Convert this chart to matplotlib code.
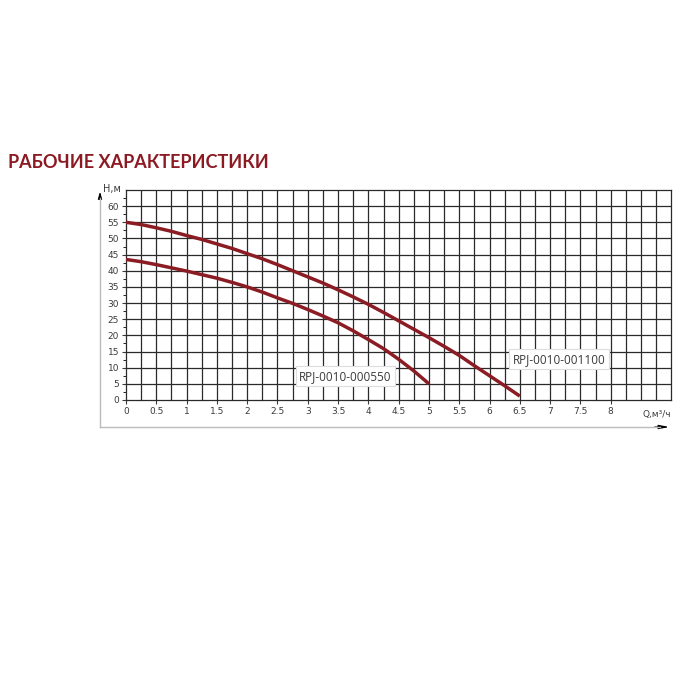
import matplotlib
matplotlib.use("Agg")
import matplotlib.pyplot as plt
import numpy as np
from matplotlib.lines import Line2D
from matplotlib.patches import FancyArrowPatch

# Pump performance curves: flow Q (m³/h) vs head H (m)
q_550 = [0, 0.25, 0.5, 0.75, 1, 1.25, 1.5, 1.75, 2, 2.25, 2.5, 2.75, 3,
         3.25, 3.5, 3.75, 4, 4.25, 4.5, 4.75, 5]
h_550 = [43.5, 42.8, 41.9, 40.9, 39.9, 38.8, 37.7, 36.4, 35.0, 33.4, 31.6, 29.9, 28.0,
         26.0, 23.9, 21.4, 18.7, 15.9, 12.6, 9.0, 5.0]

q_1100 = [0, 0.25, 0.5, 0.75, 1, 1.25, 1.5, 1.75, 2, 2.25, 2.5, 2.75, 3, 3.25,
          3.5, 3.75, 4, 4.25, 4.5, 4.75, 5, 5.25, 5.5, 5.75, 6, 6.25, 6.5]
h_1100 = [55.0, 54.3, 53.3, 52.2, 50.9, 49.7, 48.3, 46.9, 45.3, 43.7, 41.9, 40.0, 38.1, 36.2,
          34.1, 31.9, 29.6, 27.1, 24.5, 21.9, 19.3, 16.6, 13.8, 10.6, 7.5, 4.4, 1.2]

x_ticks = [0, 0.5, 1, 1.5, 2, 2.5, 3, 3.5, 4, 4.5, 5, 5.5, 6, 6.5, 7, 7.5, 8]
x_tick_labels = ["0", "0.5", "1", "1.5", "2", "2.5", "3", "3.5", "4", "4.5",
                 "5", "5.5", "6", "6.5", "7", "7.5", "8"]
y_ticks = [0, 5, 10, 15, 20, 25, 30, 35, 40, 45, 50, 55, 60]

label_550 = "RPJ-0010-000550"
label_1100 = "RPJ-0010-001100"
title = "РАБОЧИЕ ХАРАКТЕРИСТИКИ"

curve_color = "#8b1c24"
title_color = "#8b1a22"
grid_color = "#2a2a2a"
text_color = "#3a3a3a"

fig = plt.figure(figsize=(7, 7), dpi=100)
fig.patch.set_facecolor("white")
ax = fig.add_axes([0.18, 0.4286, 0.779, 0.3])

ax.set_xlim(0, 9)
ax.set_ylim(0, 65)

# Grid: quarter steps in Q, 5 m steps in H
for xv in np.arange(0.25, 9.0, 0.25):
    ax.axvline(xv, color=grid_color, lw=0.9, zorder=1)
for yv in np.arange(5, 65, 5):
    ax.axhline(yv, color=grid_color, lw=0.9, zorder=1)

ax.plot(q_1100, h_1100, color=curve_color, lw=2.5, solid_capstyle="butt",
        solid_joinstyle="round", zorder=3)
ax.plot(q_550, h_550, color=curve_color, lw=2.5, solid_capstyle="butt",
        solid_joinstyle="round", zorder=3)

bbox = dict(boxstyle="square,pad=0.3", fc="white", ec="#dddddd", lw=0.8)
ax.text(3.62, 7.4, label_550, ha="center", va="center", fontsize=8.5,
        color=text_color, bbox=bbox, zorder=4, family="Open Sans")
ax.text(7.15, 12.6, label_1100, ha="center", va="center", fontsize=8.5,
        color=text_color, bbox=bbox, zorder=4, family="Open Sans")

for side in ["top", "right", "left", "bottom"]:
    ax.spines[side].set_color(grid_color)
    ax.spines[side].set_linewidth(0.9)

ax.set_xticks(x_ticks)
ax.set_xticklabels(x_tick_labels)
ax.set_yticks(y_ticks)
ax.set_yticks(np.arange(2.5, 65, 5), minor=True)
ax.tick_params(axis="both", labelsize=6.5, colors=text_color, length=3, width=0.8, pad=2)
ax.tick_params(axis="y", which="minor", length=2, width=0.6)
ax.text(9.0, -3.2, "Q,м³/ч", ha="right", va="top", fontsize=6.5, color=text_color)
ax.text(-0.23, 65.3, "Н,м", ha="center", va="center", fontsize=7, color=text_color)

# Outer frame lines with arrows
frame = "#bbbbbb"
fig.add_artist(Line2D([100 / 700, 100 / 700], [1 - 427 / 700, 1 - 198 / 700],
                      color=frame, lw=1.0, transform=fig.transFigure))
fig.add_artist(Line2D([100 / 700, 660 / 700], [1 - 427 / 700, 1 - 427 / 700],
                      color=frame, lw=1.0, transform=fig.transFigure))
fig.add_artist(FancyArrowPatch((100 / 700, 1 - 201 / 700), (100 / 700, 1 - 189 / 700),
                               arrowstyle="-|>,head_length=4,head_width=1.2",
                               color="black", lw=0.8, transform=fig.transFigure))
fig.add_artist(FancyArrowPatch((652 / 700, 1 - 427 / 700), (672 / 700, 1 - 427 / 700),
                               arrowstyle="-|>,head_length=6,head_width=1.2",
                               color="black", lw=0.8, transform=fig.transFigure))

fig.text(8 / 700, 1 - 163 / 700, title, ha="left", va="center", fontsize=13,
         fontweight="bold", color=title_color, family="Lato")

fig.savefig("out.png", dpi=100, facecolor="white")
